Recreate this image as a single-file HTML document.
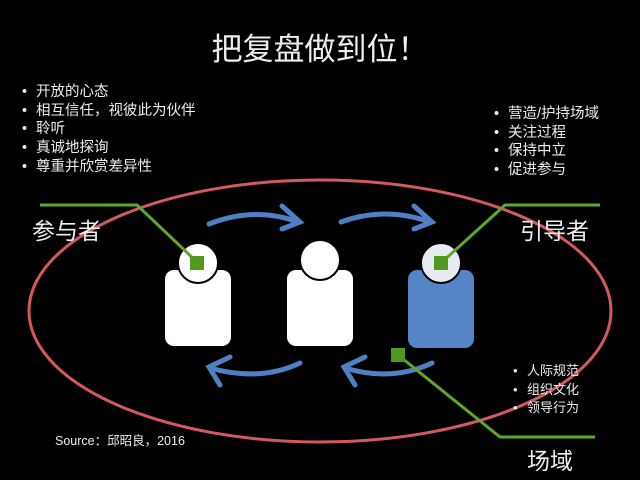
<!DOCTYPE html>
<html><head><meta charset="utf-8"><style>
body{margin:0;background:#000;width:640px;height:480px;overflow:hidden;position:relative;font-family:"Liberation Sans","Noto Sans CJK SC",sans-serif;color:#eee}
.t{position:absolute;white-space:nowrap}
ul{margin:0;padding:0;list-style:none}
.b{position:absolute;font-size:14.5px;line-height:18.7px}
.b li:before{content:"•";display:inline-block;width:14px}
</style></head><body>
<svg width="640" height="480" style="position:absolute;left:0;top:0">
<ellipse cx="320" cy="311" rx="291" ry="131" fill="none" stroke="#d25a5f" stroke-width="3"/>
<g fill="none" stroke="#4d80c4" stroke-width="5" stroke-linecap="round">
<path d="M209 224 Q255 206 298 222"/><path d="M282 206 L300 222 L282 229"/>
<path d="M341 222 Q385 206 430 222"/><path d="M414 206 L432 222 L414 229"/>
<path d="M300 363 Q260 382 210 368"/><path d="M230 357 L209 367 L220 385"/>
<path d="M432 363 Q392 382 345 368"/><path d="M365 357 L344 367 L355 385"/>
</g>
<rect x="165" y="270" width="66" height="76" rx="9" fill="#fff"/>
<circle cx="198" cy="263" r="20" fill="#fff" stroke="#000" stroke-width="2"/>
<rect x="287" y="270" width="66" height="76" rx="9" fill="#fff"/>
<circle cx="320" cy="260" r="20" fill="#fff" stroke="#000" stroke-width="2"/>
<rect x="408" y="270" width="66" height="78" rx="9" fill="#5585c6"/>
<circle cx="441" cy="263" r="20" fill="#e8ecf2" stroke="#000" stroke-width="2"/>
<g fill="none" stroke="#5fa62c" stroke-width="3">
<polyline points="40,205 137,205 198,263"/>
<polyline points="600,205 505,205 441,263"/>
<polyline points="398,355 500,437 595,437"/>
</g>
<g fill="#4f9a1e">
<rect x="190" y="256" width="14" height="14"/>
<rect x="434" y="256" width="14" height="14"/>
<rect x="391" y="348" width="14" height="14"/>
</g>
</svg>
<div class="t" style="left:0;width:640px;text-align:center;top:24px;font-size:31px">把复盘做到位！</div>
<ul class="b" style="left:22px;top:83px"><li>开放的心态</li><li>相互信任，视彼此为伙伴</li><li>聆听</li><li>真诚地探询</li><li>尊重并欣赏差异性</li></ul>
<ul class="b" style="left:494px;top:105px"><li>营造/护持场域</li><li>关注过程</li><li>保持中立</li><li>促进参与</li></ul>
<ul class="b" style="left:513px;top:362px;font-size:13px"><li>人际规范</li><li>组织文化</li><li>领导行为</li></ul>
<div class="t" style="left:32px;top:212px;font-size:23px">参与者</div>
<div class="t" style="left:520px;top:212px;font-size:23px">引导者</div>
<div class="t" style="left:527px;top:442px;font-size:23px">场域</div>
<div class="t" style="left:55px;top:430px;font-size:12.5px">Source：邱昭良，2016</div>
</body></html>
